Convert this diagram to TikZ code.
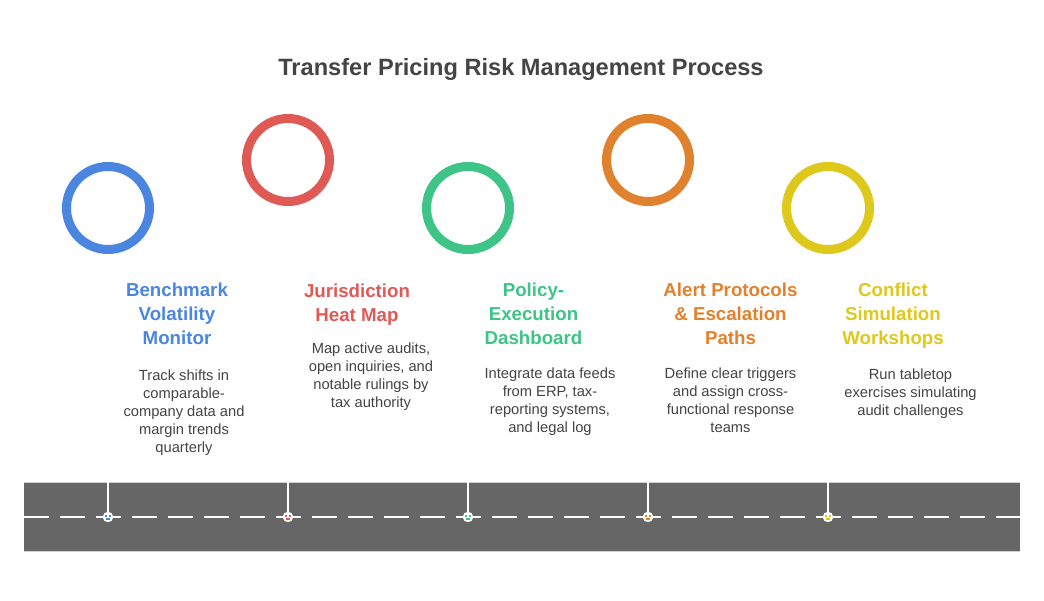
\documentclass[tikz,border=0pt]{standalone}
\usepackage{fontspec}
\setmainfont{Liberation Sans}
\definecolor{cblue}{HTML}{4A86E0}
\definecolor{cred}{HTML}{E05A55}
\definecolor{cgreen}{HTML}{3DC486}
\definecolor{corange}{HTML}{E0822D}
\definecolor{cyellow}{HTML}{DEC81C}
\definecolor{ctext}{HTML}{444444}
\definecolor{croad}{HTML}{666666}
\tikzset{
  ring/.style={circle, draw=#1, line width=9pt, minimum size=83pt, inner sep=0pt},
  headtext/.style={text=#1, font=\bfseries\fontsize{18.7}{24}\selectfont, align=center, anchor=north, inner sep=0pt},
  desctext/.style={text=ctext, font=\fontsize{14.7}{18}\selectfont, align=center, anchor=north, inner sep=0pt},
  marker/.style={circle, fill=white, draw=white, minimum size=10pt, inner sep=0pt},
  pole/.style={draw=white, line width=1.6pt},
}
\newcommand{\markicon}[2]{%
  \fill[#2] ($(#1)+(-2.6,-2.2)$) rectangle ++(2,2.4);
  \fill[#2] ($(#1)+(0.6,-2.2)$) rectangle ++(2,2.4);
  \fill[#2] ($(#1)+(-1.6,1.2)$) rectangle ++(3.2,1.4);
}
\usetikzlibrary{calc}
\begin{document}
\begin{tikzpicture}[x=1pt,y=-1pt]
\useasboundingbox[fill=white] (0,0) rectangle (1044,601);
% title
\node[text=ctext, font=\bfseries\fontsize{23.6}{28}\selectfont, inner sep=0pt] (title) at (521,69) {Transfer Pricing Risk Management Process};
% rings
\node[ring=cblue] (c1) at (108,208) {};
\node[ring=cred] (c2) at (288,160) {};
\node[ring=cgreen] (c3) at (468,208) {};
\node[ring=corange] (c4) at (648,160) {};
\node[ring=cyellow] (c5) at (828,208) {};
% headings
\node[headtext=cblue] (h1) at (177,283) {Benchmark\\Volatility\\Monitor};
\node[headtext=cred] (h2) at (357,284) {Jurisdiction\\Heat Map};
\node[headtext=cgreen] (h3) at (533.5,283) {Policy-\\Execution\\Dashboard};
\node[headtext=corange] (h4) at (730.5,283) {Alert Protocols\\\& Escalation\\Paths};
\node[headtext=cyellow] (h5) at (893,283) {Conflict\\Simulation\\Workshops};
% descriptions
\node[desctext] (d1) at (184,370) {Track shifts in\\comparable-\\company data and\\margin trends\\quarterly};
\node[desctext] (d2) at (371,343) {Map active audits,\\open inquiries, and\\notable rulings by\\tax authority};
\node[desctext] (d3) at (550,368) {Integrate data feeds\\from ERP, tax-\\reporting systems,\\and legal log};
\node[desctext] (d4) at (730.5,368) {Define clear triggers\\and assign cross-\\functional response\\teams};
\node[desctext] (d5) at (910.5,369) {Run tabletop\\exercises simulating\\audit challenges};
% road
\fill[croad] (24,482) rectangle (1020,551);
\draw[draw=white!70!croad, line width=0.8pt] (24,482) -- (1020,482);
\draw[draw=white!70!croad, line width=0.8pt] (24,551) -- (1020,551);
\draw[white, line width=1.8pt, dash pattern=on 25pt off 11pt] (24,517) -- (1020,517);
% poles and markers
\foreach \i/\x/\c in {1/108/cblue,2/288/cred,3/468/cgreen,4/648/corange,5/828/cyellow}{
  \coordinate (t\i) at (\x,482);
  \node[marker] (m\i) at (\x,517) {};
  \draw[pole] (t\i) -- (m\i.north);
  \markicon{m\i}{\c}
}
\end{tikzpicture}
\end{document}
